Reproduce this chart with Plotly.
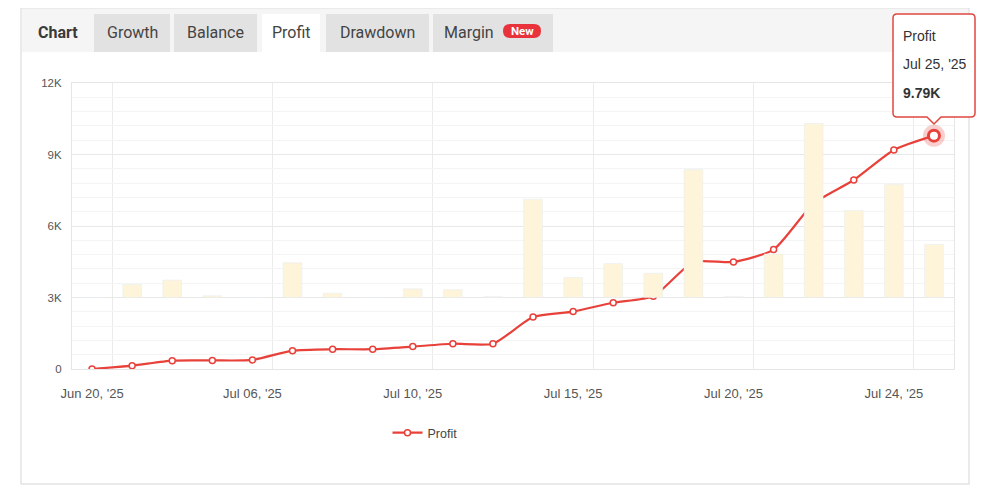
import plotly.graph_objects as go

# ---------------- data ----------------
dates = ["Jun 20, '25", "Jun 24, '25", "Jun 27, '25", "Jul 01, '25", "Jul 06, '25",
         "Jul 07, '25", "Jul 08, '25", "Jul 09, '25", "Jul 10, '25", "Jul 11, '25",
         "Jul 13, '25", "Jul 14, '25", "Jul 15, '25", "Jul 16, '25", "Jul 17, '25",
         "Jul 18, '25", "Jul 20, '25", "Jul 21, '25", "Jul 22, '25", "Jul 23, '25",
         "Jul 24, '25", "Jul 25, '25"]
profit = [0, 140, 350, 360, 380, 770, 830, 830, 940, 1060,
          1060, 2180, 2410, 2780, 3050, 4490, 4490, 5010, 6950, 7930,
          9190, 9790]
daily = [0, 150, 200, 20, 0, 400, 50, 0, 100, 90,
         10, 1130, 230, 390, 280, 1470, 10, 500, 2000, 1000,
         1300, 610]
y_ticks = [0, 3000, 6000, 9000, 12000]
y_labels = ["0", "3K", "6K", "9K", "12K"]
label_every = 4
tabs = ["Growth", "Balance", "Profit", "Drawdown", "Margin"]
tooltip_series = "Profit"
tooltip_value = "9.79K"

idx = list(range(len(dates)))

# ---------------- geometry helpers ----------------
OFF = 8  # page body margin
W, H = 1000 - OFF, 488 - OFF
L, R, T, B = 72, 954, 83, 369  # target page pixels of plot area


def PX(x):
    return (x - L) / (R - L)


def PY(y):
    return (B - y) / (B - T)


RED = "#e8413a"
fig = go.Figure()

fig.add_trace(go.Bar(x=idx, y=daily, yaxis="y2", marker_color="#fef4da",
                     width=0.47, showlegend=False, hoverinfo="skip"))
fig.add_trace(go.Scatter(x=idx, y=profit, mode="lines+markers", name="Profit",
                         line=dict(color=RED, width=2.2, shape="spline", smoothing=0.6),
                         marker=dict(size=6, color="white", line=dict(color=RED, width=1.5))))
# hovered point (last point)
fig.add_trace(go.Scatter(x=idx[-1:], y=profit[-1:], mode="markers", showlegend=False,
                         marker=dict(size=22, color="rgba(232,65,58,0.25)"), hoverinfo="skip"))
fig.add_trace(go.Scatter(x=idx[-1:], y=profit[-1:], mode="markers", showlegend=False,
                         marker=dict(size=11, color="white", line=dict(color=RED, width=3)),
                         hoverinfo="skip"))

xtick_font = dict(family="Liberation Sans, Arial", size=13, color="#555555")
ytick_font = dict(family="Liberation Sans, Arial", size=11.5, color="#555555")

fig.update_layout(
    width=W, height=H,
    margin=dict(l=L - OFF, r=(W + OFF) - R, t=T - OFF, b=(H + OFF) - B),
    paper_bgcolor="white", plot_bgcolor="white",
    xaxis=dict(range=[-0.5, len(dates) - 0.5],
               tickvals=idx[::label_every], ticktext=dates[::label_every],
               showgrid=False, zeroline=False, ticks="", tickfont=xtick_font,
               ticklabelstandoff=12,
               showline=True, linecolor="#e6e6e6", mirror=True,
               minor=dict(tick0=0.5, dtick=label_every, showgrid=True,
                          gridcolor="#ebebeb", gridwidth=1)),
    yaxis=dict(range=[0, 12000], tickvals=y_ticks, ticktext=y_labels,
               tickfont=ytick_font, gridcolor="#e8e8e8", zeroline=False,
               showline=True, linecolor="#e6e6e6", mirror=True,
               ticks="", ticklabelstandoff=7,
               minor=dict(dtick=600, showgrid=True, gridcolor="#f4f4f4")),
    yaxis2=dict(range=[-822, 2465], overlaying="y", visible=False),
    legend=dict(orientation="h", x=PX(425), xanchor="center", y=PY(433), yanchor="middle",
                font=dict(family="Liberation Sans, Arial", size=12.5, color="#444444")),
    showlegend=True,
)

shapes = []
ann = []
# container
shapes.append(dict(type="rect", xref="paper", yref="paper", x0=PX(21), x1=PX(969),
                   y0=PY(8), y1=PY(484), line=dict(color="#e3e3e3", width=1.5),
                   fillcolor="rgba(0,0,0,0)", layer="below"))
# tab bar background
shapes.append(dict(type="rect", xref="paper", yref="paper", x0=PX(22), x1=PX(968),
                   y0=PY(9), y1=PY(52), line=dict(width=0), fillcolor="#f5f5f5", layer="below"))
tab_x = [(94, 170), (174, 257), (262, 320), (326, 429), (433, 553)]
for name, (a, b) in zip(tabs, tab_x):
    fill = "white" if name == "Profit" else "#e2e2e2"
    shapes.append(dict(type="rect", xref="paper", yref="paper", x0=PX(a), x1=PX(b),
                       y0=PY(14), y1=PY(52), line=dict(width=0), fillcolor=fill, layer="below"))
    cx = (a + b) / 2 if name != "Margin" else 469
    ann.append(dict(xref="paper", yref="paper", x=PX(cx), y=PY(32), text=name,
                    showarrow=False, xanchor="center", yanchor="middle",
                    font=dict(family="Roboto", size=16, color="#444444")))
ann.append(dict(xref="paper", yref="paper", x=PX(58), y=PY(32), text="<b>Chart</b>",
                showarrow=False, xanchor="center", yanchor="middle",
                font=dict(family="Roboto", size=16, color="#3a3a3a")))
# New badge
bx0, bx1, by0, by1 = 503, 541, 24, 38
r = 7
shapes.append(dict(type="path", xref="paper", yref="paper", layer="above",
                   path=(f"M {PX(bx0 + r)},{PY(by0)} L {PX(bx1 - r)},{PY(by0)} "
                         f"Q {PX(bx1)},{PY(by0)} {PX(bx1)},{PY((by0 + by1) / 2)} "
                         f"Q {PX(bx1)},{PY(by1)} {PX(bx1 - r)},{PY(by1)} "
                         f"L {PX(bx0 + r)},{PY(by1)} "
                         f"Q {PX(bx0)},{PY(by1)} {PX(bx0)},{PY((by0 + by1) / 2)} "
                         f"Q {PX(bx0)},{PY(by0)} {PX(bx0 + r)},{PY(by0)} Z"),
                   fillcolor="#e8323c", line=dict(width=0)))
ann.append(dict(xref="paper", yref="paper", x=PX((bx0 + bx1) / 2), y=PY(31), text="<b>New</b>",
                showarrow=False, xanchor="center", yanchor="middle",
                font=dict(family="Roboto", size=11.5, color="white")))

# tooltip
tx0, tx1, ty0, ty1, tr = 893, 975, 14, 117, 4
px_c = 934
path = (f"M {PX(tx0 + tr)},{PY(ty0)} L {PX(tx1 - tr)},{PY(ty0)} "
        f"Q {PX(tx1)},{PY(ty0)} {PX(tx1)},{PY(ty0 + tr)} "
        f"L {PX(tx1)},{PY(ty1 - tr)} Q {PX(tx1)},{PY(ty1)} {PX(tx1 - tr)},{PY(ty1)} "
        f"L {PX(px_c + 7)},{PY(ty1)} L {PX(px_c)},{PY(ty1 + 7)} L {PX(px_c - 7)},{PY(ty1)} "
        f"L {PX(tx0 + tr)},{PY(ty1)} Q {PX(tx0)},{PY(ty1)} {PX(tx0)},{PY(ty1 - tr)} "
        f"L {PX(tx0)},{PY(ty0 + tr)} Q {PX(tx0)},{PY(ty0)} {PX(tx0 + tr)},{PY(ty0)} Z")
shapes.append(dict(type="path", xref="paper", yref="paper", layer="above", path=path,
                   fillcolor="white", line=dict(color="#e0473f", width=1.5)))
tip_font = dict(family="Liberation Sans, Arial", size=14, color="#333333")
for text, yy in [(tooltip_series, 36), (dates[-1], 64), (f"<b>{tooltip_value}</b>", 93)]:
    ann.append(dict(xref="paper", yref="paper", x=PX(901), y=PY(yy), text=text,
                    showarrow=False, xanchor="left", yanchor="middle", font=tip_font))

fig.update_layout(shapes=shapes, annotations=ann)
fig.write_html("out.html")
